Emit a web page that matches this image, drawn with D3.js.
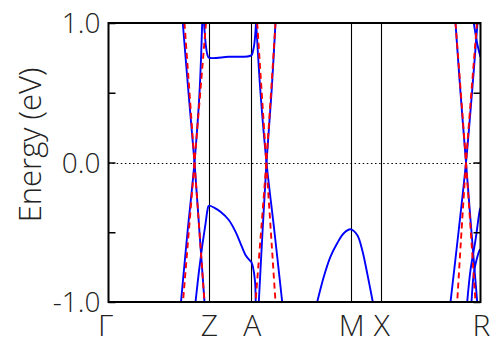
<!DOCTYPE html>
<html>
<head>
<meta charset="utf-8">
<script src="https://cdn.jsdelivr.net/npm/d3@7"></script>
<style>
  html, body { margin: 0; padding: 0; background: #fff; }
  svg text { font-family: "Open Sans", "Lato", sans-serif; font-weight: 300; fill: #222; }
</style>
</head>
<body>
<svg id="chart" width="490" height="339"></svg>
<script>
// High-symmetry points along the k-path (path length units)
const kLabels = ["Γ", "Z", "A", "M", "X", "R"];
const kTicks  = [0, 1.0, 1.428, 2.423, 2.723, 3.72];

// Energy axis
const yTicks  = [-1.0, -0.5, 0.0, 0.5, 1.0];
const yLabels = [-1.0, 0.0, 1.0];

// DFT bands [k, E(eV)] — solid blue
const dftGZ1 = [[0.743, 1.0], [0.80, 0.5], [0.86, 0.0], [0.91, -0.5], [0.96, -1.0]];
const dftGZ2 = [[0.937, 1.0], [0.91, 0.5], [0.86, 0.0], [0.79, -0.5], [0.725, -1.0]];
const dftFlat = [[0.955, 1.0], [0.975, 0.83], [0.99, 0.77], [1.003, 0.752], [1.2, 0.758],
                 [1.428, 0.768], [1.445, 0.80], [1.46, 0.86], [1.475, 1.0]];
const dftZ    = [[0.87, -1.0], [0.903, -0.79], [0.937, -0.60], [0.97, -0.44], [0.99, -0.34],
                 [1.003, -0.31], [1.06, -0.325], [1.12, -0.353], [1.203, -0.412], [1.27, -0.496],
                 [1.32, -0.579], [1.37, -0.663], [1.41, -0.70], [1.428, -0.713], [1.445, -0.75],
                 [1.465, -0.85], [1.472, -1.0]];
const dftA1   = [[1.477, 1.0], [1.52, 0.5], [1.58, 0.0], [1.66, -0.5], [1.737, -1.0]];
const dftA2   = [[1.67, 1.0], [1.63, 0.5], [1.58, 0.0], [1.54, -0.5], [1.503, -1.0]];
const dftM    = [[2.087, -1.0], [2.153, -0.819], [2.22, -0.675], [2.287, -0.579], [2.353, -0.507],
                 [2.423, -0.479], [2.487, -0.52], [2.537, -0.627], [2.587, -0.794], [2.643, -1.0]];
const dftR1   = [[3.47, 1.0], [3.52, 0.5], [3.575, 0.0], [3.63, -0.5], [3.687, -1.0]];
const dftR2   = [[3.69, 1.0], [3.635, 0.5], [3.575, 0.0], [3.50, -0.5], [3.42, -1.0]];
const dftR3   = [[3.653, 1.0], [3.69, 0.842], [3.72, 0.756]];
const dftR4   = [[3.587, -1.0], [3.62, -0.771], [3.67, -0.556], [3.713, -0.341], [3.72, -0.326]];
const dftR5   = [[3.63, -1.0], [3.653, -0.794], [3.68, -0.699], [3.713, -0.627], [3.72, -0.624]];

// Model bands [k, E(eV)] — dashed red
const modelGZ1 = [[0.76, 1.0], [0.86, 0.0], [0.96, -1.0]];
const modelGZ2 = [[0.975, 1.0], [0.86, 0.0], [0.745, -1.0]];
const modelA1  = [[1.487, 1.0], [1.578, 0.0], [1.67, -1.0]];
const modelA2  = [[1.67, 1.0], [1.578, 0.0], [1.47, -1.0]];
const modelR1  = [[3.47, 1.0], [3.575, 0.0], [3.67, -1.0]];
const modelR2  = [[3.685, 1.0], [3.575, 0.0], [3.487, -1.0]];

const dftBands   = [dftGZ1, dftGZ2, dftFlat, dftZ, dftA1, dftA2, dftM, dftR1, dftR2, dftR3, dftR4, dftR5];
const modelBands = [modelGZ1, modelGZ2, modelA1, modelA2, modelR1, modelR2];

const svg = d3.select("#chart");
const plot = { left: 108.5, right: 480.5, top: 23, bottom: 302 };

const x = d3.scaleLinear().domain([kTicks[0], kTicks[kTicks.length - 1]]).range([plot.left, plot.right]);
const y = d3.scaleLinear().domain([-1, 1]).range([plot.bottom, plot.top]);

svg.append("defs").append("clipPath").attr("id", "plot-clip")
  .append("rect")
  .attr("x", plot.left).attr("y", plot.top)
  .attr("width", plot.right - plot.left).attr("height", plot.bottom - plot.top);

// Vertical lines at high-symmetry points
svg.append("g").selectAll("line")
  .data(kTicks.slice(1, -1))
  .join("line")
  .attr("x1", d => Math.round(x(d)) + 0.5).attr("x2", d => Math.round(x(d)) + 0.5)
  .attr("y1", plot.top).attr("y2", plot.bottom)
  .attr("stroke", "#000").attr("stroke-width", 1.1);

// Fermi level
svg.append("line")
  .attr("x1", plot.left).attr("x2", plot.right)
  .attr("y1", Math.round(y(0)) + 0.5).attr("y2", Math.round(y(0)) + 0.5)
  .attr("stroke", "#000").attr("stroke-width", 1.2)
  .attr("stroke-dasharray", "1.5,2.6");

const lineSmooth = d3.line().x(d => x(d[0])).y(d => y(d[1])).curve(d3.curveCatmullRom.alpha(0.5));

const bands = svg.append("g").attr("clip-path", "url(#plot-clip)");

bands.selectAll("path.dft")
  .data(dftBands)
  .join("path")
  .attr("class", "dft")
  .attr("d", d => lineSmooth(d))
  .attr("fill", "none")
  .attr("stroke", "#0000ff")
  .attr("stroke-width", 1.9);

bands.selectAll("path.model")
  .data(modelBands)
  .join("path")
  .attr("class", "model")
  .attr("d", d => lineSmooth(d))
  .attr("fill", "none")
  .attr("stroke", "#ff0000")
  .attr("stroke-width", 1.9)
  .attr("stroke-dasharray", "6,4");

// Frame
svg.append("rect")
  .attr("x", plot.left).attr("y", plot.top)
  .attr("width", plot.right - plot.left).attr("height", plot.bottom - plot.top)
  .attr("fill", "none").attr("stroke", "#000").attr("stroke-width", 2);

// Y axes: inward ticks on both sides
const yAxisL = d3.axisLeft(y).tickValues(yTicks).tickSize(-7).tickFormat("");
const yAxisR = d3.axisRight(y).tickValues(yTicks).tickSize(-7).tickFormat("");
const gL = svg.append("g").attr("transform", `translate(${plot.left},0)`).call(yAxisL);
const gR = svg.append("g").attr("transform", `translate(${plot.right},0)`).call(yAxisR);
[gL, gR].forEach(g => {
  g.select(".domain").remove();
  g.selectAll(".tick line").attr("stroke", "#000").attr("stroke-width", 1.5);
});

// Y tick labels
svg.append("g").selectAll("text")
  .data(yLabels)
  .join("text")
  .attr("x", plot.left - 8)
  .attr("y", d => y(d))
  .attr("dy", "0.36em")
  .attr("text-anchor", "end")
  .attr("font-size", 28)
  .text(d => d3.format(".1f")(d).replace("−", "-"));

// Y axis title
svg.append("text")
  .attr("transform", `translate(41,145) rotate(-90)`)
  .attr("text-anchor", "middle")
  .attr("font-size", 31)
  .text("Energy (eV)");

// K-path labels
svg.append("g").selectAll("text")
  .data(kTicks)
  .join("text")
  .attr("x", (d, i) => x(d) + (i === 0 ? -3 : 1))
  .attr("y", 336)
  .attr("text-anchor", "middle")
  .attr("font-size", 30)
  .text((d, i) => kLabels[i]);
</script>
</body>
</html>
